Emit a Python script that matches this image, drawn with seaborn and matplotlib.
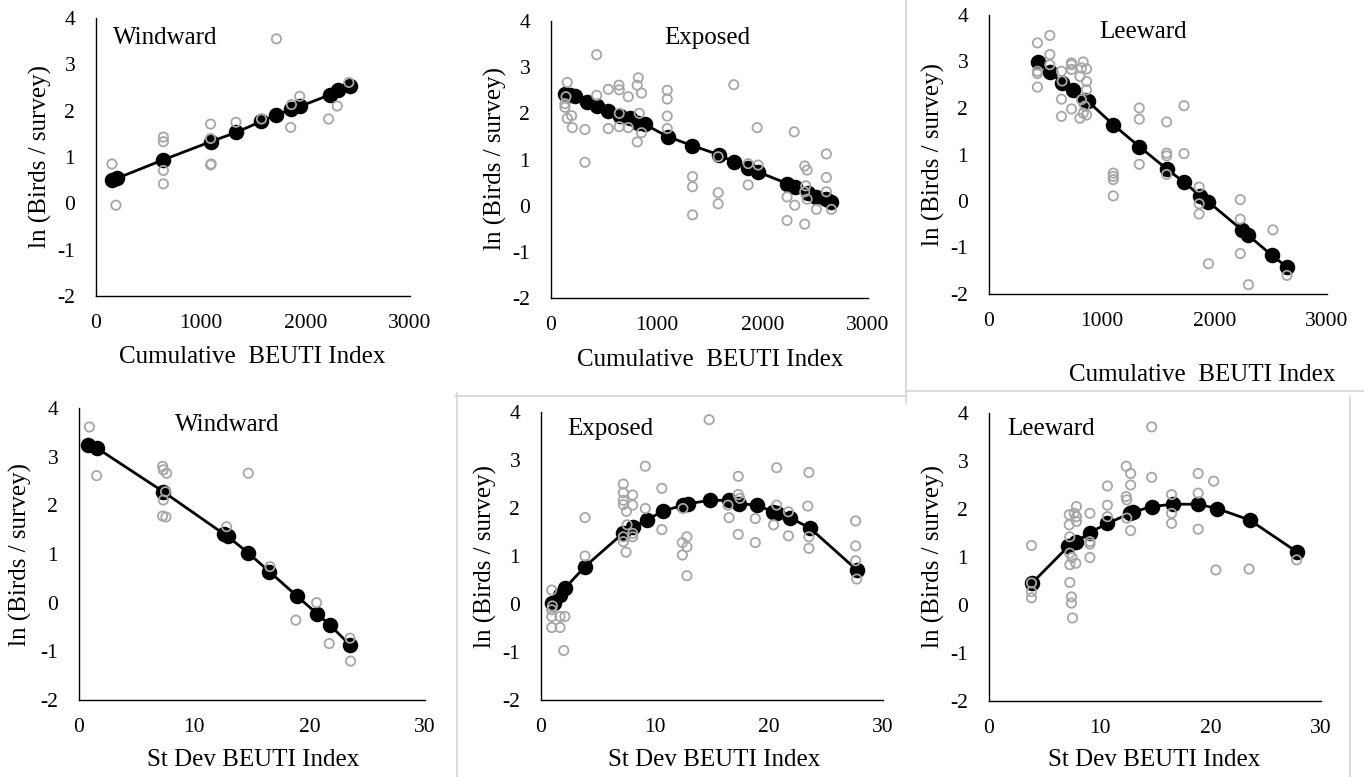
import matplotlib
matplotlib.use("Agg")
import matplotlib.pyplot as plt
import seaborn as sns
from matplotlib.lines import Line2D

# ---- data ----
# Cumulative BEUTI, windward
cw_obs_x = [152, 190, 644, 644, 644, 644, 1095, 1095, 1095, 1100, 1337, 1581, 1724, 1860, 1867, 1946, 2222, 2305, 2416]
cw_obs_y = [0.85, -0.04, 1.43, 1.33, 0.71, 0.42, 1.71, 1.40, 0.83, 0.85, 1.75, 1.82, 3.55, 1.64, 2.13, 2.31, 1.82, 2.10, 2.61]
cw_fit_x = [152, 200, 644, 1095, 1337, 1581, 1724, 1867, 1946, 2232, 2311, 2422]
cw_fit_y = [0.50, 0.54, 0.94, 1.33, 1.53, 1.77, 1.91, 2.03, 2.09, 2.34, 2.45, 2.54]

# Cumulative BEUTI, exposed
ce_obs_x = [154, 142, 132, 132, 154, 195, 202, 321, 321, 432, 432, 542, 542, 643, 646, 646, 646, 731, 731,
            826, 816, 835, 816, 857, 857, 1100, 1100, 1100, 1100, 1339, 1339, 1339, 1730, 1582, 1582, 1582,
            1866, 1866, 1951, 1960, 2234, 2234, 2301, 2307, 2401, 2424, 2411, 2401, 2424, 2401, 2512,
            2606, 2606, 2606, 2654]
ce_obs_y = [2.67, 2.36, 2.21, 2.13, 1.89, 1.95, 1.69, 1.65, 0.94, 3.27, 2.39, 2.52, 1.67, 2.61, 2.51, 2.00, 1.71, 2.36, 1.69,
            2.77, 2.61, 2.00, 1.38, 2.44, 1.58, 2.50, 2.31, 1.94, 1.67, 0.63, 0.41, -0.20, 2.62, 0.28, 0.04, 1.06,
            0.91, 0.45, 1.69, 0.88, 0.19, -0.32, 1.60, 0.01, 0.86, 0.77, 0.43, -0.40, 0.14, 0.30, -0.08,
            1.12, 0.61, 0.30, -0.08]
ce_fit_x = [132, 180, 227, 337, 432, 542, 652, 747, 826, 889, 1109, 1339, 1592, 1730, 1866, 1960, 2234, 2307, 2433,
            2512, 2606, 2654]
ce_fit_y = [2.41, 2.40, 2.38, 2.25, 2.15, 2.05, 1.94, 1.89, 1.80, 1.76, 1.49, 1.30, 1.10, 0.95, 0.81, 0.73, 0.48, 0.40,
            0.28, 0.19, 0.14, 0.09]

# Cumulative BEUTI, leeward
cl_obs_x = [430, 430, 430, 430, 540, 540, 540, 643, 649, 643, 643, 732, 732, 732, 732, 807, 821, 836, 821, 807, 836,
            866, 866, 866, 866, 851, 1103, 1103, 1103, 1103, 1334, 1334, 1334, 1577, 1577, 1577, 1577, 1731, 1731,
            1865, 1865, 1865, 1948, 2230, 2230, 2230, 2303, 2520, 2645]
cl_obs_y = [3.40, 2.79, 2.74, 2.45, 3.56, 3.15, 2.93, 2.79, 2.58, 2.19, 1.82, 2.97, 2.93, 2.83, 1.98, 2.68, 2.86, 2.99,
            2.18, 1.78, 1.89, 2.84, 2.57, 2.39, 1.85, 2.04, 0.60, 0.46, 0.53, 0.11, 2.00, 1.76, 0.79, 1.70, 1.03, 0.97,
            0.57, 2.05, 1.02, 0.30, -0.06, -0.28, -1.35, 0.03, -0.39, -1.13, -1.80, -0.62, -1.60]
cl_fit_x = [436, 540, 652, 747, 851, 880, 1103, 1334, 1577, 1734, 1874, 1948, 2244, 2303, 2511, 2645]
cl_fit_y = [2.99, 2.78, 2.53, 2.38, 2.18, 2.14, 1.64, 1.17, 0.69, 0.40, 0.11, -0.02, -0.62, -0.74, -1.17, -1.42]

# St Dev BEUTI, windward
sw_obs_x = [0.9, 1.53, 7.25, 7.31, 7.6, 7.31, 7.25, 7.54, 7.5, 12.8, 14.68, 16.56, 18.8, 20.6, 21.7, 23.5, 23.55]
sw_obs_y = [3.61, 2.61, 2.80, 2.73, 2.66, 2.11, 1.78, 1.76, 2.28, 1.56, 2.66, 0.74, -0.36, 0.0, -0.84, -0.73, -1.20]
sw_fit_x = [0.81, 1.53, 7.31, 12.57, 12.9, 14.68, 16.5, 18.87, 20.66, 21.76, 23.5]
sw_fit_y = [3.24, 3.18, 2.28, 1.41, 1.36, 1.02, 0.64, 0.14, -0.23, -0.46, -0.87]

# St Dev BEUTI, exposed
se_obs_x = [0.94, 0.94, 0.94, 0.94, 1.67, 1.67, 2.1, 2.0, 1.0, 3.86, 3.86,
            7.22, 7.22, 7.22, 7.22, 7.22, 7.46, 7.5, 7.55, 8.04, 8.04, 8.04, 8.04, 7.22,
            9.15, 9.15, 10.6, 10.6, 12.4, 12.4, 12.45, 12.8, 12.8, 12.8, 14.75,
            16.5, 16.4, 17.3, 17.3, 17.3, 17.45, 18.8, 18.8, 20.67, 20.4, 20.67, 21.7, 21.7,
            23.5, 23.4, 23.5, 23.5, 27.6, 27.6, 27.6, 27.7]
se_obs_y = [0.29, -0.12, -0.26, -0.49, -0.26, -0.49, -0.26, -0.97, -0.04, 1.00, 1.80,
            2.50, 2.32, 2.16, 2.07, 1.30, 1.08, 1.93, 1.65, 2.27, 2.06, 1.47, 1.40, 1.40,
            2.87, 1.99, 2.41, 1.55, 1.28, 1.02, 1.99, 1.40, 1.19, 0.59, 3.84,
            1.80, 2.06, 2.66, 2.28, 1.45, 2.20, 1.78, 1.28, 2.84, 1.65, 2.06, 1.42, 1.92,
            2.74, 2.04, 1.40, 1.16, 1.73, 1.21, 0.90, 0.52]
se_fit_x = [0.94, 1.1, 1.67, 2.1, 3.86, 7.22, 8.04, 9.27, 10.73, 12.49, 12.92, 14.82, 16.52, 17.4, 18.92, 20.38, 20.67,
            21.84, 23.6, 27.7]
se_fit_y = [0.03, 0.02, 0.19, 0.33, 0.78, 1.48, 1.60, 1.75, 1.94, 2.06, 2.09, 2.16, 2.16, 2.09, 2.06, 1.92, 1.89,
            1.80, 1.58, 0.71]

# St Dev BEUTI, leeward
sl_obs_x = [3.84, 3.84, 3.84, 3.84,
            7.25, 7.25, 7.3, 7.3, 7.3, 7.3, 7.45, 7.45, 7.55, 7.7, 7.9, 7.9, 7.9, 7.85, 7.5,
            9.12, 9.12, 9.12, 9.12, 10.7, 10.7, 10.7, 12.4, 12.4, 12.45, 12.45, 12.8, 12.8, 12.8,
            14.7, 14.7, 16.5, 16.5, 16.5, 18.9, 18.9, 18.9, 20.3, 20.5, 23.5, 27.8]
sl_obs_y = [1.24, 0.46, 0.28, 0.15,
            1.88, 1.67, 1.42, 1.08, 0.84, 0.47, 0.17, 0.04, -0.27, 1.91, 2.05, 1.84, 1.74, 0.87, 0.99,
            1.91, 1.32, 1.27, 0.99, 2.48, 2.08, 1.84, 2.89, 2.26, 2.19, 1.81, 2.74, 2.50, 1.55,
            3.71, 2.66, 2.30, 1.91, 1.70, 2.74, 2.33, 1.58, 2.58, 0.73, 0.75, 0.94]
sl_fit_x = [3.9, 7.16, 7.9, 9.12, 10.7, 12.75, 13.05, 14.7, 16.6, 18.9, 20.6, 23.56, 27.8]
sl_fit_y = [0.46, 1.22, 1.32, 1.51, 1.70, 1.91, 1.94, 2.05, 2.10, 2.10, 2.01, 1.77, 1.11]

panel_titles = ["Windward", "Exposed", "Leeward", "Windward", "Exposed", "Leeward"]
x_labels = ["Cumulative  BEUTI Index"] * 3 + ["St Dev BEUTI Index"] * 3
y_label = "ln (Birds / survey)"
cum_ticks = [0, 1000, 2000, 3000]
sd_ticks = [0, 10, 20, 30]
y_ticks = [-2, -1, 0, 1, 2, 3, 4]

W, H = 1364, 777
sns.set_theme(style="white")
plt.rcParams["font.family"] = ["Liberation Serif", "DejaVu Serif"]
plt.rcParams["text.color"] = "black"

fig = plt.figure(figsize=(W / 100, H / 100), dpi=100)


def fx(px):
    return px / W


def fy(py):
    return 1 - py / H


def make_ax(left, right, top, bottom):
    return fig.add_axes([fx(left), fy(bottom), fx(right) - fx(left), (bottom - top) / H])


# axes boxes in pixels: left, right, top, bottom
boxes = [(96, 410, 18, 296), (551, 868, 21, 298), (989, 1327, 15, 294),
         (79, 425, 408, 700), (541, 883, 412, 700), (989, 1321, 413, 701)]
series = [(cw_obs_x, cw_obs_y, cw_fit_x, cw_fit_y),
          (ce_obs_x, ce_obs_y, ce_fit_x, ce_fit_y),
          (cl_obs_x, cl_obs_y, cl_fit_x, cl_fit_y),
          (sw_obs_x, sw_obs_y, sw_fit_x, sw_fit_y),
          (se_obs_x, se_obs_y, se_fit_x, se_fit_y),
          (sl_obs_x, sl_obs_y, sl_fit_x, sl_fit_y)]
# title (x, y, ha), x label (x, y), y label (x, y) in pixels
title_pos = [(113, 38, "left"), (707, 38, "center"), (1143, 32, "center"),
             (227, 425, "center"), (567, 429, "left"), (1007, 429, "left")]
xlab_pos = [(252, 357), (710, 360), (1202, 375), (253, 760), (714, 760), (1154, 760)]
ylab_pos = [(40, 157), (495, 158), (933, 154), (20, 555), (485, 557), (933, 557)]

for i, (box, (ox, oy, fxv, fyv)) in enumerate(zip(boxes, series)):
    ax = make_ax(*box)
    sns.lineplot(x=fxv, y=fyv, ax=ax, color="black", linewidth=2.0, estimator=None, sort=True, zorder=2)
    sns.scatterplot(x=fxv, y=fyv, ax=ax, color="black", s=125, linewidth=0, zorder=3)
    sns.scatterplot(x=ox, y=oy, ax=ax, color="#a6a6a6", s=45, zorder=4)
    pts = ax.collections[-1]
    pts.set_facecolor("none")
    pts.set_edgecolor("#a6a6a6")
    pts.set_linewidth(1.3)

    ticks = cum_ticks if i < 3 else sd_ticks
    ax.set_xlim(ticks[0], ticks[-1])
    ax.set_ylim(-2, 4)
    ax.set_xticks(ticks)
    ax.set_yticks(y_ticks)
    ax.set_xticklabels([str(t) for t in ticks])
    ax.set_yticklabels([str(t) for t in y_ticks])
    ax.tick_params(length=0, labelsize=15.5, colors="black")
    ax.tick_params(axis="y", pad=15)
    ax.tick_params(axis="x", pad=13)
    for s in ["top", "right"]:
        ax.spines[s].set_visible(False)
    for s in ["left", "bottom"]:
        ax.spines[s].set_color("black")
        ax.spines[s].set_linewidth(1.0)
    ax.set_xlabel("")
    ax.set_ylabel("")
    ax.set_facecolor("none")

    tx, ty, ha = title_pos[i]
    fig.text(fx(tx), fy(ty), panel_titles[i], ha=ha, va="center", fontsize=18)
    lx, ly = xlab_pos[i]
    fig.text(fx(lx), fy(ly), x_labels[i], ha="center", va="center", fontsize=18)
    yx, yy = ylab_pos[i]
    fig.text(fx(yx), fy(yy), y_label, ha="center", va="center", rotation=90, fontsize=18)

# light grey frame lines around the pasted chart images
frame = "#d4d4d4"
for (x0, y0, x1, y1) in [(906, 0, 906, 403), (906, 391, 1364, 391), (455, 396, 906, 396),
                         (457, 393, 457, 777), (1350, 397, 1350, 777)]:
    fig.add_artist(Line2D([fx(x0), fx(x1)], [fy(y0), fy(y1)], color=frame, linewidth=1.2))

fig.savefig("out.png", dpi=100, facecolor="white")
